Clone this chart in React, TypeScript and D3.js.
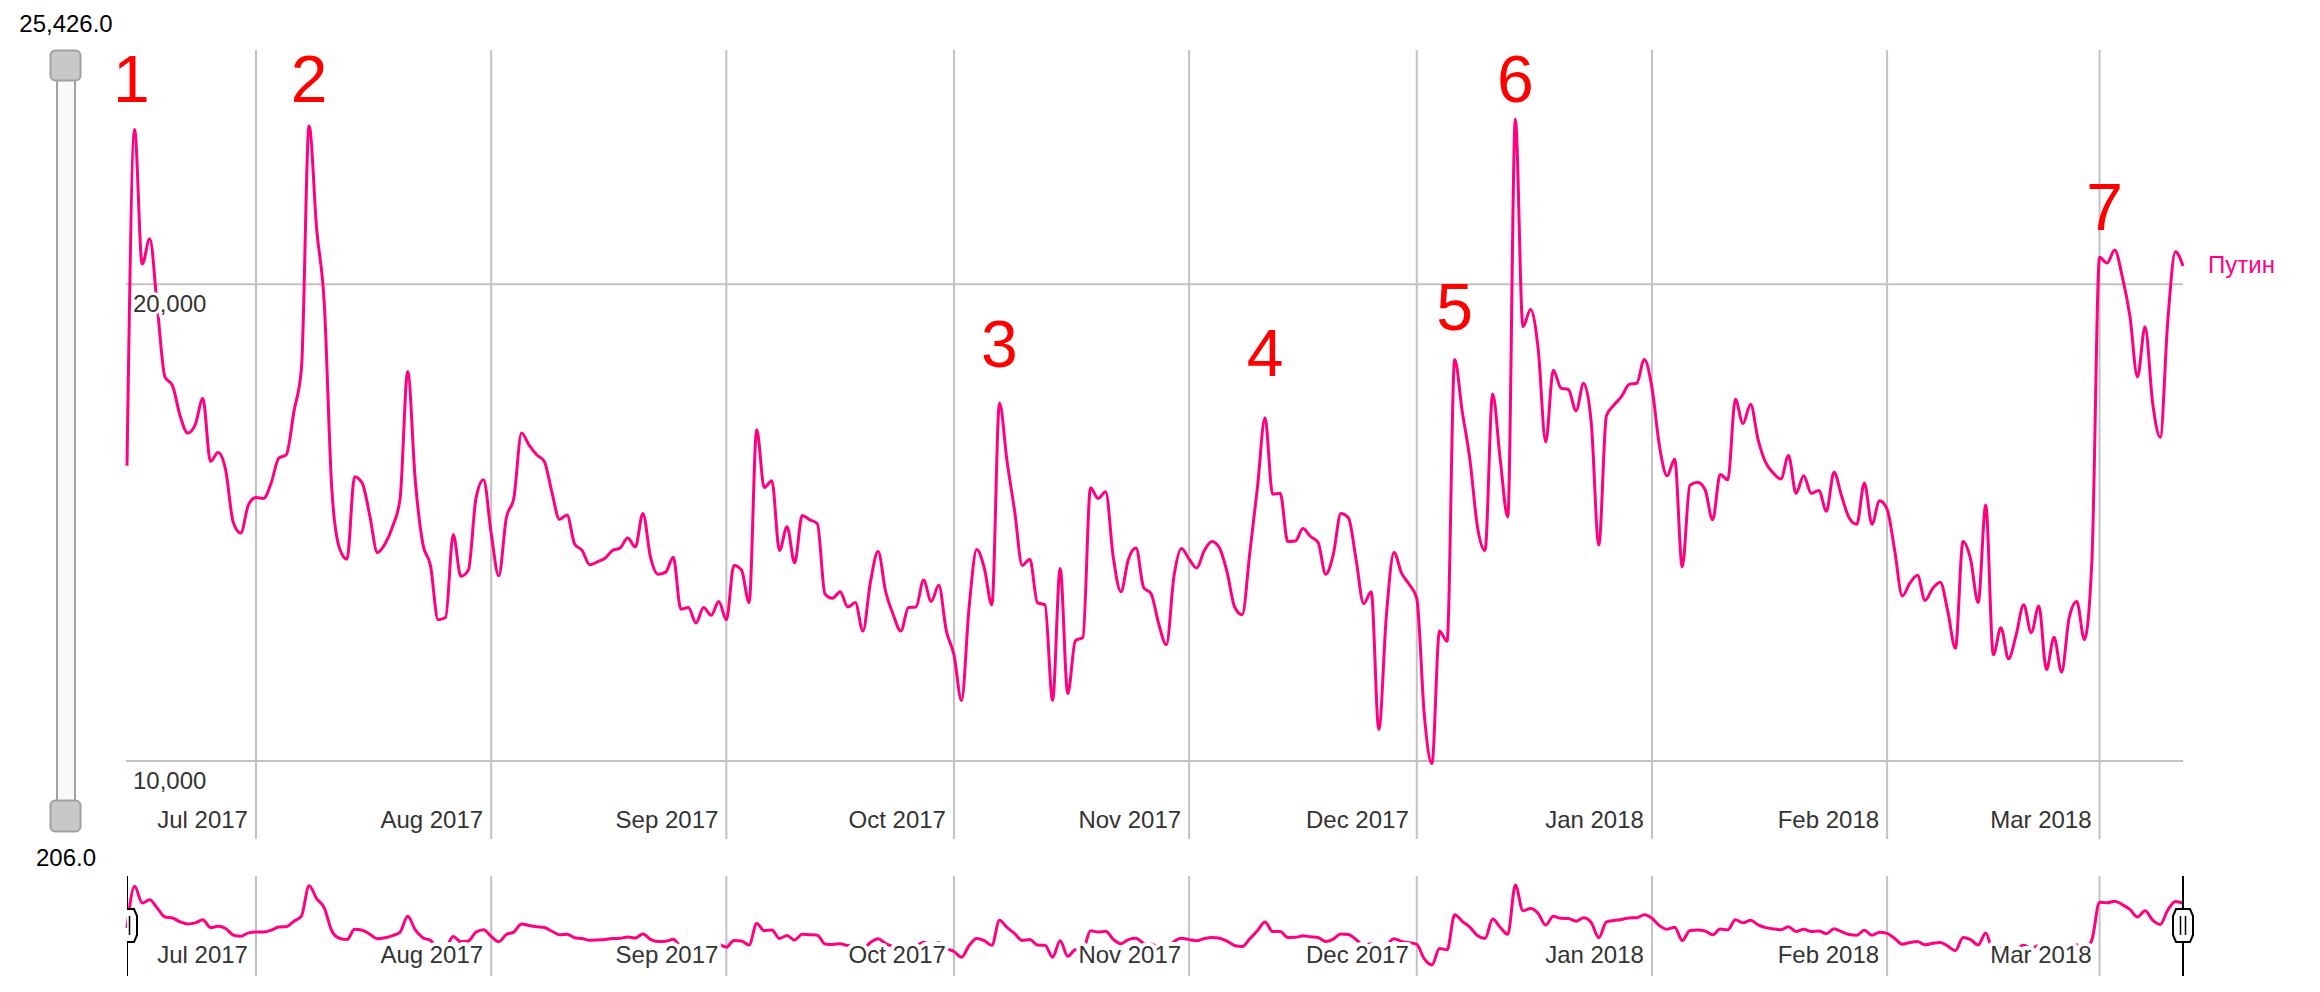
import React from "react";
import * as d3 from "d3";

// ---------- data ----------
const startDate = new Date(2017, 5, 14);
const seriesName = "Путин";
const values: number[] = [
  15360, 25050, 20600, 21370, 19340, 17480, 17260, 16520, 16110, 16310,
  16940, 15460, 15660, 15270, 14150, 13930, 14510, 14670, 14650, 14980,
  15530, 15610, 16620, 17710, 25180, 21670, 19460, 14840, 13630, 13410,
  15120, 14980, 14290, 13540, 13710, 14060, 14650, 17620, 15030, 13710,
  13290, 12280, 12320, 13900, 13080, 13200, 14650, 15050, 13930, 13090,
  14240, 14670, 16110, 15830, 15610, 15460, 14790, 14210, 14300, 13710,
  13580, 13300, 13360, 13430, 13580, 13630, 13830, 13650, 14330, 13450,
  13120, 13160, 13450, 12470, 12500, 12220, 12500, 12360, 12610, 12280,
  13290, 13200, 12590, 16190, 14880, 15030, 13580, 14060, 13340, 14290,
  14200, 14120, 12750, 12670, 12790, 12510, 12590, 12080, 12980, 13560,
  12790, 12370, 12080, 12500, 12510, 13010, 12610, 12910, 12080, 11670,
  10920, 12510, 13600, 13240, 12550, 16830, 15460, 14380, 13290, 13410,
  12590, 12550, 10920, 13230, 11030, 11910, 11970, 14880, 14650, 14790,
  13450, 12790, 13410, 13630, 12870, 12750, 12200, 11840, 13080, 13620,
  13410, 13240, 13580, 13760, 13630, 13160, 12510, 12370, 13540, 14880,
  16470, 14740, 14760, 13760, 13770, 14020, 13860, 13740, 13120, 13500,
  14330, 14240, 13410, 12570, 12790, 10470, 12360, 13540, 13140, 12930,
  12670, 10690, 9960, 12080, 11900, 17930, 16620, 15510, 14060, 13580,
  17050, 15510, 14260, 25426, 18800, 19280, 18220, 15900, 17650, 17200,
  17160, 16640, 17320, 16360, 13690, 16520, 16780, 16990, 17290, 17320,
  17930, 17210, 15800, 15140, 15510, 13260, 14930, 15000, 14840, 14200,
  15170, 15050, 16920, 16330, 16800, 15950, 15430, 15200, 15070, 15590,
  14760, 15140, 14760, 14820, 14380, 15220, 14700, 14240, 14110, 14980,
  14110, 14600, 14420, 13580, 12710, 12950, 13100, 12630, 12850, 12970,
  12430, 11780, 13760, 13410, 12590, 14510, 11670, 12140, 11600, 12010,
  12550, 12050, 12530, 11420, 11970, 11380, 12320, 12610, 11930, 13410,
  20800, 20630, 21020, 20220, 19100, 17480, 18800, 16830, 16010, 18980,
  20970, 20540,
];
const dates: Date[] = values.map((_, i) => d3.timeDay.offset(startDate, i));

const monthLabels = [
  "Jul 2017", "Aug 2017", "Sep 2017", "Oct 2017", "Nov 2017",
  "Dec 2017", "Jan 2018", "Feb 2018", "Mar 2018",
];
const yTickValues = [10000, 20000];
const sliderMax = 25426.0;
const sliderMin = 206.0;

const annotationLabels = ["1", "2", "3", "4", "5", "6", "7"];
const annotationDates = [
  new Date(2017, 5, 14, 14), new Date(2017, 6, 8), new Date(2017, 9, 7),
  new Date(2017, 10, 11), new Date(2017, 11, 6), new Date(2017, 11, 14),
  new Date(2018, 2, 1, 16),
];
const annotationValues = [26060, 26060, 17740, 17510, 18710, 26060, 21650];

// ---------- layout ----------
const W = 2320;
const H = 992;
const plotLeft = 127;
const plotRight = 2183;
const plotTop = 50;
const plotBottom = 839;
const ovTop = 876;
const ovBottom = 976;
const FONT = "'Liberation Sans', Arial, Helvetica, sans-serif";
const PINK = "#ff0080";
const GRID = "#c2c2c2";

export default function App() {
  const x = d3
    .scaleTime()
    .domain([dates[0], dates[dates.length - 1]])
    .range([plotLeft, plotRight]);
  const y = d3.scaleLog().domain([10000, 20000]).range([761, 284.3]);
  const ext = d3.extent(values) as [number, number];
  const yOv = d3.scaleLog().domain(ext).range([965, 885]);

  const monthTicks = x.ticks(d3.timeMonth.every(1) as any);
  const fmtMonth = d3.timeFormat("%b %Y");
  const fmtY = d3.format(",");
  const fmtSlider = d3.format(",.1f");

  const mainLine = d3
    .line<number>()
    .x((_, i) => x(dates[i]))
    .y((d) => y(d))
    .curve(d3.curveMonotoneX);
  const ovLine = d3
    .line<number>()
    .x((_, i) => x(dates[i]))
    .y((d) => yOv(d))
    .curve(d3.curveMonotoneX);

  const last = values[values.length - 1];
  const lastDate = dates[dates.length - 1];

  const hexR = (cx: number) => {
    const t = 909, b = 942, w = 10, c = 3;
    return `M${cx - w + c},${t} L${cx + w - c},${t} L${cx + w},${t + 7} L${cx + w},${b - 7} L${cx + w - c},${b} L${cx - w + c},${b} L${cx - w},${b - 7} L${cx - w},${t + 7} Z`;
  };

  return (
    <svg
      width={W}
      height={H}
      style={{ position: "absolute", left: 0, top: 0, background: "#fff" }}
      fontFamily={FONT}
    >
      <rect x={0} y={0} width={W} height={H} fill="#fff" />

      {/* vertical month grid - main */}
      {monthTicks.map((d, i) => (
        <line
          key={"vg" + i}
          x1={x(d)}
          x2={x(d)}
          y1={plotTop}
          y2={plotBottom}
          stroke={GRID}
          strokeWidth={2}
        />
      ))}
      {/* horizontal grid */}
      {yTickValues.map((v) => (
        <line
          key={"hg" + v}
          x1={plotLeft - 1}
          x2={plotRight}
          y1={y(v)}
          y2={y(v)}
          stroke={GRID}
          strokeWidth={2}
        />
      ))}

      {/* main line */}
      <path d={mainLine(values) || ""} fill="none" stroke={PINK} strokeWidth={3} strokeLinejoin="round" />

      {/* y labels */}
      {yTickValues.map((v) => (
        <text
          key={"yl" + v}
          x={plotLeft + 6}
          y={y(v) + 28}
          fontSize={24}
          fill="#333"
          stroke="#fff"
          strokeWidth={6}
          strokeLinejoin="round"
          style={{ paintOrder: "stroke" }}
        >
          {fmtY(v)}
        </text>
      ))}

      {/* month labels main */}
      {monthTicks.map((d, i) => (
        <text
          key={"ml" + i}
          x={x(d) - 8}
          y={828}
          textAnchor="end"
          fontSize={24}
          fill="#333"
        >
          {monthLabels[i] ?? fmtMonth(d)}
        </text>
      ))}

      {/* series label */}
      <text x={x(lastDate) + 25} y={y(last)} dy="0.3em" fontSize={24} fill={PINK}>
        {seriesName}
      </text>

      {/* annotations */}
      {annotationLabels.map((t, i) => (
        <text
          key={"an" + i}
          x={x(annotationDates[i])}
          y={y(annotationValues[i])}
          textAnchor="middle"
          fontSize={66}
          fill="#ff0000"
        >
          {t}
        </text>
      ))}

      {/* left vertical slider */}
      <text x={66} y={32} textAnchor="middle" fontSize={24} fill="#000">
        {fmtSlider(sliderMax)}
      </text>
      <rect x={57} y={70} width={18} height={745} fill="#f9fbfb" stroke="#a3a3a3" strokeWidth={2} />
      <rect x={50.5} y={50.5} width={30} height={30} rx={5} fill="#c8c8c8" stroke="#a0a0a0" strokeWidth={2} />
      <rect x={50.5} y={800.5} width={30} height={31} rx={5} fill="#c8c8c8" stroke="#a0a0a0" strokeWidth={2} />
      <text x={66} y={866} textAnchor="middle" fontSize={24} fill="#000">
        {fmtSlider(sliderMin)}
      </text>

      {/* overview */}
      {monthTicks.map((d, i) => (
        <line
          key={"og" + i}
          x1={x(d)}
          x2={x(d)}
          y1={ovTop}
          y2={ovBottom}
          stroke={GRID}
          strokeWidth={2}
        />
      ))}
      <path d={ovLine(values) || ""} fill="none" stroke={PINK} strokeWidth={3} strokeLinejoin="round" />
      {monthTicks.map((d, i) => (
        <text
          key={"ol" + i}
          x={x(d) - 8}
          y={963}
          textAnchor="end"
          fontSize={24}
          fill="#333"
          stroke="#fff"
          strokeWidth={8}
          strokeLinejoin="round"
          style={{ paintOrder: "stroke" }}
        >
          {monthLabels[i] ?? fmtMonth(d)}
        </text>
      ))}

      {/* brush handles */}
      <defs>
        <clipPath id="ovclip">
          <rect x={plotLeft} y={ovTop - 2} width={W - plotLeft} height={ovBottom - ovTop + 4} />
        </clipPath>
      </defs>
      <g clipPath="url(#ovclip)">
        <line x1={plotLeft} x2={plotLeft} y1={ovTop} y2={ovBottom} stroke="#000" strokeWidth={2} />
        <path d={hexR(plotLeft)} fill="#fff" stroke="#000" strokeWidth={2} />
        <line x1={plotLeft + 2.5} x2={plotLeft + 2.5} y1={916} y2={935} stroke="#000" strokeWidth={1.5} />
        <line x1={plotRight} x2={plotRight} y1={ovTop} y2={ovBottom} stroke="#000" strokeWidth={2} />
        <path d={hexR(plotRight)} fill="#fff" stroke="#000" strokeWidth={2} />
        <line x1={plotRight - 2.5} x2={plotRight - 2.5} y1={916} y2={935} stroke="#000" strokeWidth={1.5} />
        <line x1={plotRight + 2.5} x2={plotRight + 2.5} y1={916} y2={935} stroke="#000" strokeWidth={1.5} />
      </g>
    </svg>
  );
}
